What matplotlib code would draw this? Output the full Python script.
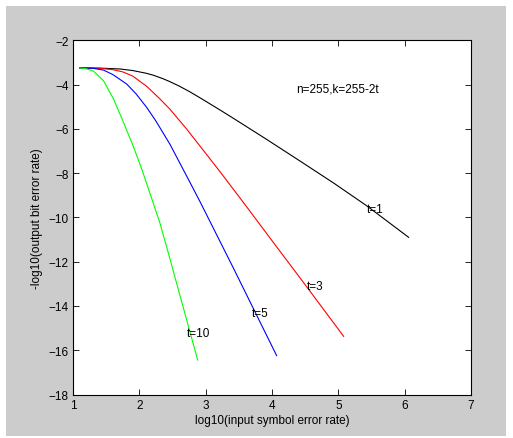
import matplotlib
matplotlib.use("Agg")
import matplotlib.pyplot as plt
from matplotlib.patches import Rectangle

# data
x_t1 = [1.10, 1.40, 1.71, 1.90, 2.10, 2.21, 2.35, 2.46, 2.60, 2.75, 2.92, 3.20, 3.42, 3.92, 4.42, 4.93, 5.43, 6.06]
y_t1 = [-3.25, -3.26, -3.30, -3.37, -3.49, -3.58, -3.73, -3.87, -4.07, -4.31, -4.61, -5.12, -5.53, -6.48, -7.45, -8.45, -9.48, -10.90]

x_t3 = [1.10, 1.40, 1.60, 1.75, 1.90, 2.11, 2.30, 2.46, 2.71, 2.92, 3.22, 3.60, 3.97, 4.52, 5.08]
y_t3 = [-3.25, -3.27, -3.33, -3.43, -3.62, -4.08, -4.62, -5.11, -6.00, -6.80, -7.95, -9.45, -10.93, -13.12, -15.37]

x_t5 = [1.10, 1.30, 1.46, 1.60, 1.81, 1.95, 2.11, 2.25, 2.46, 2.76, 2.92, 3.42, 3.72, 4.07]
y_t5 = [-3.25, -3.27, -3.35, -3.55, -3.98, -4.42, -5.03, -5.65, -6.69, -8.40, -9.32, -12.30, -14.12, -16.24]

x_t10 = [1.10, 1.20, 1.31, 1.46, 1.61, 1.76, 1.91, 2.04, 2.17, 2.31, 2.46, 2.61, 2.88]
y_t10 = [-3.25, -3.29, -3.40, -3.83, -4.65, -5.70, -6.80, -7.85, -9.00, -10.25, -11.85, -13.50, -16.44]

labels = ["t=1", "t=3", "t=5", "t=10"]
label_x = [5.43, 4.52, 3.70, 2.72]
label_y = [-9.62, -13.11, -14.32, -15.22]

xticks = [1, 2, 3, 4, 5, 6, 7]
yticks = [-18, -16, -14, -12, -10, -8, -6, -4, -2]

plt.rcParams['font.family'] = ['Liberation Sans', 'DejaVu Sans']
FS = 8.5
W, H = 513, 439
fig = plt.figure(figsize=(W / 100, H / 100), dpi=100, facecolor='white')
fig.patches.append(Rectangle((6 / W, 1 - 437 / H), (506 - 6) / W, (437 - 7) / H,
                             transform=fig.transFigure, facecolor='#cccccc',
                             edgecolor='none', zorder=-10))

ax = fig.add_axes([73 / W, 1 - 395.6 / H, (471 - 73) / W, (395.6 - 41.2) / H])
ax.set_facecolor('white')

ax.plot(x_t1, y_t1, color='black', lw=0.8)
ax.plot(x_t3, y_t3, color='red', lw=0.8)
ax.plot(x_t5, y_t5, color='blue', lw=0.8)
ax.plot(x_t10, y_t10, color='#00ff00', lw=0.8)

for s, lx, ly in zip(labels, label_x, label_y):
    ax.text(lx, ly, s, fontsize=FS, ha='left', va='center')
ax.text(4.37, -4.17, "n=255,k=255-2t", fontsize=FS, ha='left', va='center')

ax.set_xlim(1, 7)
ax.set_ylim(-18, -2)
ax.set_xticks(xticks)
ax.set_yticks(yticks)
ax.tick_params(direction='in', length=4, width=0.6, top=True, right=True,
               labelsize=FS, pad=3)
for sp in ax.spines.values():
    sp.set_linewidth(0.8)
ax.set_xlabel("log10(input symbol error rate)", fontsize=FS, labelpad=2)
ax.set_ylabel("-log10(output bit error rate)", fontsize=FS, labelpad=4)

fig.savefig("out.png", dpi=100, facecolor='white')
